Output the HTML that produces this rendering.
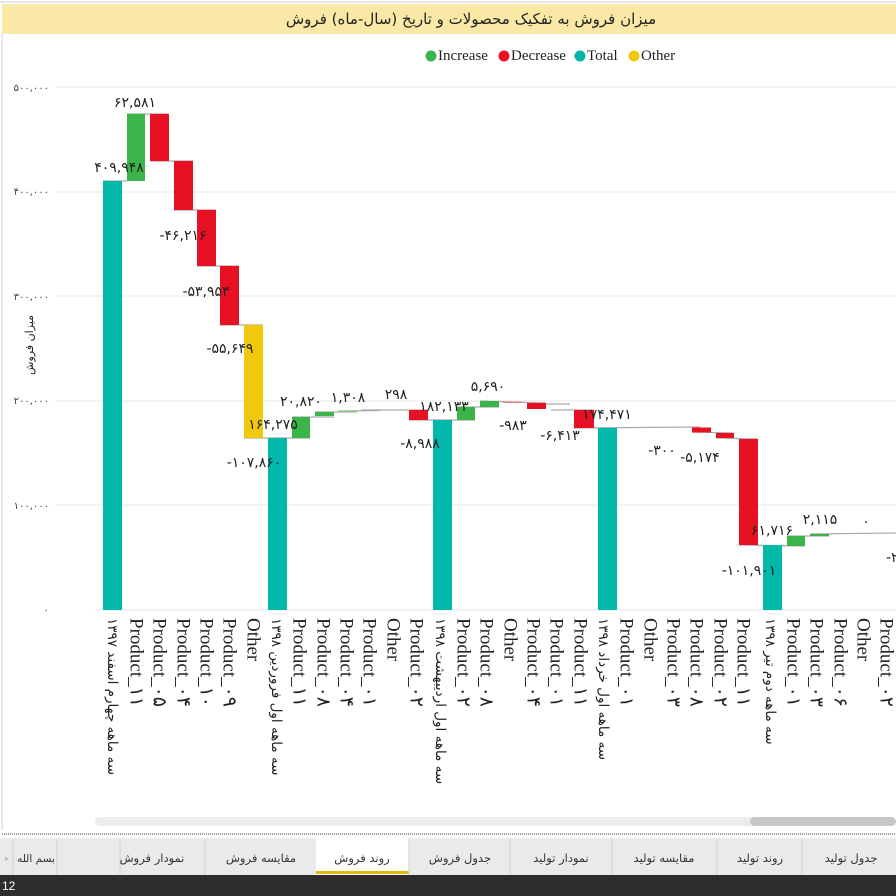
<!DOCTYPE html>
<html><head><meta charset="utf-8"><style>
html,body{margin:0;padding:0;width:896px;height:896px;overflow:hidden;background:#fff;font-family:"Liberation Sans","Noto Sans CJK SC",sans-serif}
</style></head><body>
<svg width="896" height="896" viewBox="0 0 896 896" xmlns="http://www.w3.org/2000/svg" style="position:absolute;left:0;top:0">
<rect x="0" y="0" width="896" height="896" fill="#fff"/>
<line x1="0" y1="2" x2="896" y2="2" stroke="#ccc"/>
<rect x="2" y="4" width="894" height="30" fill="#f9e8a6"/>
<text x="471" y="24" text-anchor="middle" font-family="'DejaVu Sans',sans-serif" font-size="15" fill="#222">میزان فروش به تفکیک محصولات و تاریخ (سال-ماه) فروش</text>
<line x1="2" y1="34" x2="2" y2="830" stroke="#d0d0d0"/>
<g font-family="'Liberation Serif',serif" font-size="15" fill="#222">
<circle cx="431" cy="56" r="5.5" fill="#3bb44a"/><text x="438" y="60">Increase</text>
<circle cx="504" cy="56" r="5.5" fill="#e81123"/><text x="511" y="60">Decrease</text>
<circle cx="580" cy="56" r="5.5" fill="#01b8aa"/><text x="587" y="60">Total</text>
<circle cx="634" cy="56" r="5.5" fill="#f2c80f"/><text x="641" y="60">Other</text>
</g>
<g stroke="#ececec" stroke-width="1.2">
<line x1="55" y1="87" x2="896" y2="87"/><line x1="55" y1="192" x2="896" y2="192"/>
<line x1="55" y1="296" x2="896" y2="296"/><line x1="55" y1="401" x2="896" y2="401"/>
<line x1="55" y1="505" x2="896" y2="505"/><line x1="95" y1="610" x2="896" y2="610"/>
</g>
<g font-family="'DejaVu Sans',sans-serif" font-size="10" fill="#444" text-anchor="end">
<text x="49" y="91">۵۰۰,۰۰۰</text><text x="49" y="195">۴۰۰,۰۰۰</text><text x="49" y="300">۳۰۰,۰۰۰</text>
<text x="49" y="404">۲۰۰,۰۰۰</text><text x="49" y="509">۱۰۰,۰۰۰</text><text x="49" y="613">۰</text>
</g>
<text transform="translate(33,345) rotate(-90)" text-anchor="middle" font-family="'DejaVu Sans',sans-serif" font-size="11" fill="#222">میزان فروش</text>
<g stroke="#aaa" stroke-width="1.2">
<line x1="103" y1="181" x2="127" y2="181"/><line x1="127" y1="114" x2="169" y2="114"/>
<line x1="150" y1="161" x2="193" y2="161"/><line x1="174" y1="210" x2="216" y2="210"/>
<line x1="197" y1="266" x2="239" y2="266"/><line x1="220" y1="325" x2="263" y2="325"/>
<line x1="244" y1="438" x2="310" y2="438"/><line x1="292" y1="417" x2="334" y2="417"/>
<line x1="315" y1="412" x2="357" y2="412"/><line x1="338" y1="411" x2="380" y2="410.5"/>
<line x1="361" y1="410" x2="428" y2="410"/><line x1="409" y1="420" x2="475" y2="420"/>
<line x1="457" y1="407" x2="499" y2="407"/><line x1="480" y1="401" x2="546" y2="403"/>
<line x1="527" y1="404" x2="570" y2="404"/><line x1="551" y1="410" x2="594" y2="410"/>
<line x1="574" y1="428" x2="700" y2="427"/><line x1="692" y1="432" x2="734" y2="433"/>
<line x1="716" y1="438" x2="758" y2="439"/><line x1="739" y1="545" x2="805" y2="546"/>
<line x1="787" y1="536" x2="829" y2="536"/><line x1="810" y1="534" x2="896" y2="533"/>
</g>
<g>
<rect x="103" y="181" width="19" height="429" fill="#01b8aa"/>
<rect x="127" y="114" width="18" height="67" fill="#3bb44a"/>
<rect x="150" y="114" width="19" height="47" fill="#e81123"/>
<rect x="174" y="161" width="19" height="49" fill="#e81123"/>
<rect x="197" y="210" width="19" height="56" fill="#e81123"/>
<rect x="220" y="266" width="19" height="59" fill="#e81123"/>
<rect x="244" y="325" width="19" height="113" fill="#f2c80f"/>
<rect x="268" y="438" width="19" height="172" fill="#01b8aa"/>
<rect x="292" y="417" width="18" height="21" fill="#3bb44a"/>
<rect x="315" y="412" width="19" height="4" fill="#3bb44a"/>
<rect x="338" y="410.5" width="19" height="1.5" fill="#8c8"/>
<rect x="409" y="410" width="19" height="10" fill="#e81123"/>
<rect x="433" y="420" width="19" height="190" fill="#01b8aa"/>
<rect x="457" y="407" width="18" height="13" fill="#3bb44a"/>
<rect x="480" y="401" width="19" height="6" fill="#3bb44a"/>
<rect x="503" y="401.5" width="19" height="1.5" fill="#d88"/>
<rect x="527" y="403" width="19" height="6" fill="#e81123"/>
<rect x="574" y="410" width="20" height="18" fill="#e81123"/>
<rect x="598" y="428" width="19" height="182" fill="#01b8aa"/>
<rect x="692" y="427.5" width="19" height="5" fill="#e81123"/>
<rect x="716" y="433" width="18" height="5" fill="#e81123"/>
<rect x="739" y="439" width="19" height="106" fill="#e81123"/>
<rect x="763" y="545" width="19" height="65" fill="#01b8aa"/>
<rect x="787" y="536" width="18" height="10" fill="#3bb44a"/>
<rect x="810" y="534" width="19" height="2" fill="#3bb44a"/>
</g>
<g font-family="'DejaVu Sans',sans-serif" font-size="14" fill="#222" text-anchor="middle">
<text x="119" y="172">۴۰۹,۹۴۸</text><text x="135" y="107">۶۲,۵۸۱</text>
<text x="183" y="240">-۴۶,۲۱۶</text><text x="206" y="296">-۵۳,۹۵۳</text>
<text x="230" y="353">-۵۵,۶۴۹</text><text x="254" y="467">-۱۰۷,۸۶۰</text>
<text x="273" y="429">۱۶۴,۲۷۵</text><text x="301" y="406">۲۰,۸۲۰</text>
<text x="348" y="402">۱,۳۰۸</text><text x="396" y="399">۲۹۸</text>
<text x="420" y="448">-۸,۹۸۸</text><text x="444" y="411">۱۸۲,۱۳۳</text>
<text x="488" y="391">۵,۶۹۰</text><text x="513" y="430">-۹۸۳</text>
<text x="560" y="440">-۶,۴۱۳</text><text x="607" y="419">۱۷۴,۴۷۱</text>
<text x="662" y="455">-۳۰۰</text><text x="700" y="462">-۵,۱۷۴</text>
<text x="749" y="575">-۱۰۱,۹۰۱</text><text x="772" y="535">۶۱,۷۱۶</text>
<text x="820" y="524">۲,۱۱۵</text><text x="866" y="526">۰</text>
<text x="896" y="562">-۲۰</text>
</g>
<g font-family="'Liberation Serif','DejaVu Sans',serif" font-size="19" fill="#222" dominant-baseline="central">
<text transform="translate(112,618) rotate(90)" font-family="'DejaVu Sans',sans-serif" font-size="13.5">سه ماهه چهارم اسفند ۱۳۹۷</text>
<text transform="translate(136,618) rotate(90)">Product_۱۱</text>
<text transform="translate(159,618) rotate(90)">Product_۰۵</text>
<text transform="translate(183,618) rotate(90)">Product_۰۴</text>
<text transform="translate(206,618) rotate(90)">Product_۱۰</text>
<text transform="translate(229,618) rotate(90)">Product_۰۹</text>
<text transform="translate(253,618) rotate(90)">Other</text>
<text transform="translate(276,618) rotate(90)" font-family="'DejaVu Sans',sans-serif" font-size="13.5">سه ماهه اول فروردین ۱۳۹۸</text>
<text transform="translate(299,618) rotate(90)">Product_۱۱</text>
<text transform="translate(323,618) rotate(90)">Product_۰۸</text>
<text transform="translate(346,618) rotate(90)">Product_۰۴</text>
<text transform="translate(369,618) rotate(90)">Product_۰۱</text>
<text transform="translate(393,618) rotate(90)">Other</text>
<text transform="translate(416,618) rotate(90)">Product_۰۲</text>
<text transform="translate(440,618) rotate(90)" font-family="'DejaVu Sans',sans-serif" font-size="13.5">سه ماهه اول اردیبهشت ۱۳۹۸</text>
<text transform="translate(463,618) rotate(90)">Product_۰۲</text>
<text transform="translate(486,618) rotate(90)">Product_۰۸</text>
<text transform="translate(510,618) rotate(90)">Other</text>
<text transform="translate(533,618) rotate(90)">Product_۰۴</text>
<text transform="translate(556,618) rotate(90)">Product_۰۱</text>
<text transform="translate(580,618) rotate(90)">Product_۱۱</text>
<text transform="translate(603,618) rotate(90)" font-family="'DejaVu Sans',sans-serif" font-size="13.5">سه ماهه اول خرداد ۱۳۹۸</text>
<text transform="translate(626,618) rotate(90)">Product_۰۱</text>
<text transform="translate(650,618) rotate(90)">Other</text>
<text transform="translate(673,618) rotate(90)">Product_۰۳</text>
<text transform="translate(696,618) rotate(90)">Product_۰۸</text>
<text transform="translate(720,618) rotate(90)">Product_۰۲</text>
<text transform="translate(743,618) rotate(90)">Product_۱۱</text>
<text transform="translate(770,618) rotate(90)" font-family="'DejaVu Sans',sans-serif" font-size="13.5">سه ماهه دوم تیر ۱۳۹۸</text>
<text transform="translate(793,618) rotate(90)">Product_۰۱</text>
<text transform="translate(816,618) rotate(90)">Product_۰۳</text>
<text transform="translate(840,618) rotate(90)">Product_۰۶</text>
<text transform="translate(863,618) rotate(90)">Other</text>
<text transform="translate(886,618) rotate(90)">Product_۰۲</text>
</g>
<rect x="95" y="817" width="801" height="9" rx="4.5" fill="#ececec"/>
<rect x="750" y="817" width="146" height="9" rx="4.5" fill="#c8c8c8"/>
<line x1="2" y1="834" x2="896" y2="834" stroke="#999" stroke-dasharray="1,1" stroke-width="2"/>
<rect x="0" y="838" width="896" height="37" fill="#eaeaea"/>
<rect x="316" y="838" width="93" height="37" fill="#fff"/>
<rect x="316" y="871" width="93" height="3" fill="#e5b90b"/>
<g stroke="#d2d2d2"><line x1="13" y1="838" x2="13" y2="875"/><line x1="57" y1="838" x2="57" y2="875"/><line x1="120" y1="838" x2="120" y2="875"/><line x1="205" y1="838" x2="205" y2="875"/><line x1="409" y1="838" x2="409" y2="875"/><line x1="510" y1="838" x2="510" y2="875"/><line x1="612" y1="838" x2="612" y2="875"/><line x1="717" y1="838" x2="717" y2="875"/><line x1="802" y1="838" x2="802" y2="875"/></g>
<text x="7" y="861" font-size="8" fill="#bbb" text-anchor="middle">▸</text>
<g font-family="'DejaVu Sans',sans-serif" font-size="11.5" fill="#333" text-anchor="middle">
<text x="36" y="862" font-size="10.5">بسم الله</text><text x="152" y="862">نمودار فروش</text><text x="261" y="862">مقایسه فروش</text>
<text x="362" y="862">روند فروش</text><text x="460" y="862">جدول فروش</text><text x="561" y="862">نمودار تولید</text>
<text x="664" y="862">مقایسه تولید</text><text x="760" y="862">روند تولید</text><text x="851" y="862">جدول تولید</text>
</g>
<rect x="0" y="875" width="896" height="21" fill="#2d2d2d"/>
<text x="2" y="890" font-size="12" fill="#fff">12</text>
</svg>
</body></html>
